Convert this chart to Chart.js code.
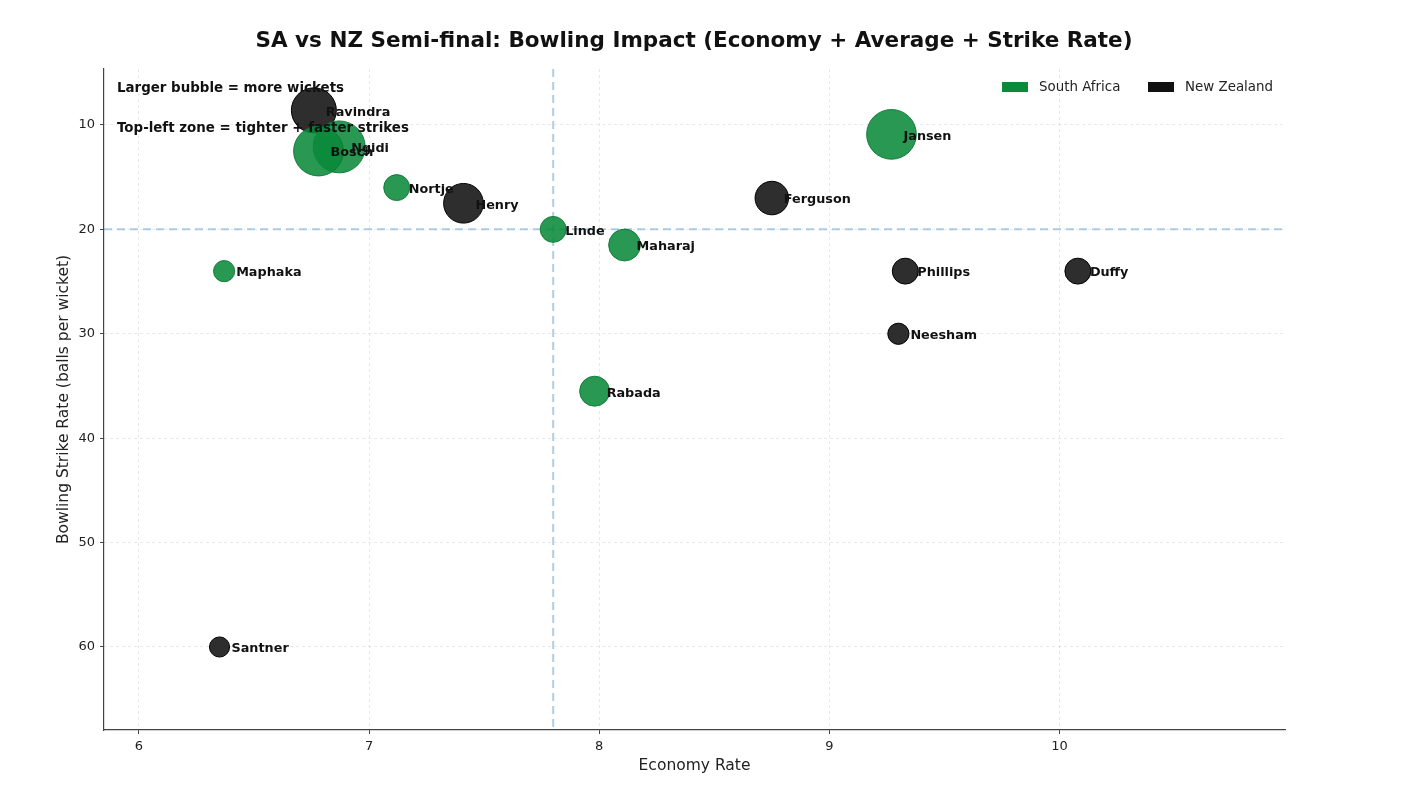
<!DOCTYPE html>
<html>
<head>
<meta charset="utf-8">
<script src="https://cdn.jsdelivr.net/npm/chart.js@4.4.1/dist/chart.umd.min.js"></script>
<style>
  html, body { margin: 0; padding: 0; background: #fff; }
  #wrap { width: 1416px; height: 802px; }
</style>
</head>
<body>
<div id="wrap"><canvas id="mychart"></canvas></div>
<script>
// bowlers, economy rate, strike rate, wickets (bubble size)
const saNames   = ['Jansen', 'Ngidi', 'Bosch', 'Nortje', 'Linde', 'Maharaj', 'Maphaka', 'Rabada'];
const saEconomy = [9.27, 6.87, 6.78, 7.12, 7.80, 8.11, 6.37, 7.98];
const saStrike  = [10.9, 12.1, 12.5, 16.0, 20.0, 21.5, 24.0, 35.5];
const saWickets = [11, 12, 11, 3, 3, 4.5, 2, 4];

const nzNames   = ['Ravindra', 'Henry', 'Ferguson', 'Phillips', 'Duffy', 'Neesham', 'Santner'];
const nzEconomy = [6.76, 7.41, 8.75, 9.33, 10.08, 9.30, 6.35];
const nzStrike  = [8.6, 17.5, 17.0, 24.0, 24.0, 30.0, 60.0];
const nzWickets = [9, 7, 5, 3, 3, 2, 1.8];

const xTicks = [6, 7, 8, 9, 10];
const yTicks = [10, 20, 30, 40, 50, 60];
const econRef = 7.8;
const strikeRef = 20;

const titleText = 'SA vs NZ Semi-final: Bowling Impact (Economy + Average + Strike Rate)';
const notes = ['Larger bubble = more wickets', 'Top-left zone = tighter + faster strikes'];

function toPoints(econ, sr, wk) {
    return econ.map((e, i) => ({ x: e, y: sr[i], r: 7.5 * Math.sqrt(wk[i]) }));
}

const fontFam = '"DejaVu Sans", sans-serif';

var decor = {
    id: 'decor',
    beforeDatasetsDraw(chart) {
        const { ctx, chartArea: a, scales: { x, y } } = chart;
        ctx.save();
        ctx.strokeStyle = 'rgba(110,165,210,0.55)';
        ctx.lineWidth = 2;
        ctx.setLineDash([8, 5]);
        const px = x.getPixelForValue(econRef);
        ctx.beginPath(); ctx.moveTo(px, a.top); ctx.lineTo(px, a.bottom); ctx.stroke();
        const py = y.getPixelForValue(strikeRef);
        ctx.beginPath(); ctx.moveTo(a.left, py); ctx.lineTo(a.right, py); ctx.stroke();
        ctx.restore();
    },
    afterDatasetsDraw(chart) {
        const { ctx, chartArea: a } = chart;
        ctx.save();
        ctx.fillStyle = '#111';
        ctx.textBaseline = 'middle';
        // title across the whole figure
        ctx.textAlign = 'center';
        ctx.font = 'bold 21.5px ' + fontFam;
        ctx.fillText(titleText, 694, 41);
        ctx.textAlign = 'left';
        ctx.font = 'bold 12.8px ' + fontFam;
        const names = [saNames, nzNames];
        chart.data.datasets.forEach((ds, di) => {
            chart.getDatasetMeta(di).data.forEach((el, i) => {
                ctx.fillText(names[di][i], el.x + 12, el.y + 2);
            });
        });
        // notes
        ctx.font = 'bold 13.4px ' + fontFam;
        ctx.fillText(notes[0], a.left + 13, a.top + 20);
        ctx.fillText(notes[1], a.left + 13, a.top + 60);
        // legend
        ctx.font = '13.4px ' + fontFam;
        const items = [['South Africa', '#0a8a3a', 1002], ['New Zealand', '#111111', 1148]];
        items.forEach(([label, col, lx]) => {
            ctx.fillStyle = col;
            ctx.fillRect(lx, 82, 26, 10);
            ctx.fillStyle = '#222';
            ctx.fillText(label, lx + 37, 88);
        });
        ctx.restore();
    }
};

const gridOpts = {
    color: 'rgba(0,0,0,0.09)', tickColor: '#444',
    tickLength: 4, tickBorderDash: [],
};
const borderOpts = { display: true, color: '#444', width: 1.2, dash: [3, 3] };

const $canvas = document.getElementById('mychart');
var graph = new Chart($canvas, {
    type: 'bubble',
    data: {
        datasets: [{
            label: 'South Africa',
            data: toPoints(saEconomy, saStrike, saWickets),
            backgroundColor: 'rgba(10,138,58,0.88)',
            borderColor: 'rgba(10,120,50,0.9)',
            borderWidth: 1,
        }, {
            label: 'New Zealand',
            data: toPoints(nzEconomy, nzStrike, nzWickets),
            backgroundColor: 'rgba(17,17,17,0.88)',
            borderColor: '#000',
            borderWidth: 1,
        }],
    },
    options: {
        responsive: true,
        maintainAspectRatio: false,
        animation: false,
        layout: { padding: { left: 0, right: 131, top: 69, bottom: 0 } },
        plugins: {
            legend: { display: false },
            tooltip: { enabled: false },
            title: { display: false },
        },
        scales: {
            x: {
                type: 'linear',
                min: 5.848,
                max: 10.98,
                afterBuildTicks: (s) => { s.ticks = xTicks.map(v => ({ value: v })); },
                afterFit: (s) => { s.height = 72; },
                ticks: { color: '#222', font: { family: fontFam, size: 13 }, padding: 5 },
                grid: gridOpts,
                border: borderOpts,
                title: {
                    display: true, text: 'Economy Rate', color: '#222',
                    font: { family: fontFam, size: 15.5, lineHeight: 1.2 }, padding: { top: 0, bottom: 27 },
                },
            },
            y: {
                type: 'linear',
                reverse: true,
                min: 4.64,
                max: 67.95,
                afterBuildTicks: (s) => { s.ticks = yTicks.map(v => ({ value: v })); },
                afterFit: (s) => { s.width = 104; },
                ticks: { color: '#222', font: { family: fontFam, size: 13 }, padding: 5 },
                grid: gridOpts,
                border: borderOpts,
                title: {
                    display: true, text: 'Bowling Strike Rate (balls per wicket)', color: '#222',
                    font: { family: fontFam, size: 15.5, lineHeight: 1.2 }, padding: { top: 55, bottom: 0 },
                },
            },
        },
    },
    plugins: [decor],
});
</script>
</body>
</html>
